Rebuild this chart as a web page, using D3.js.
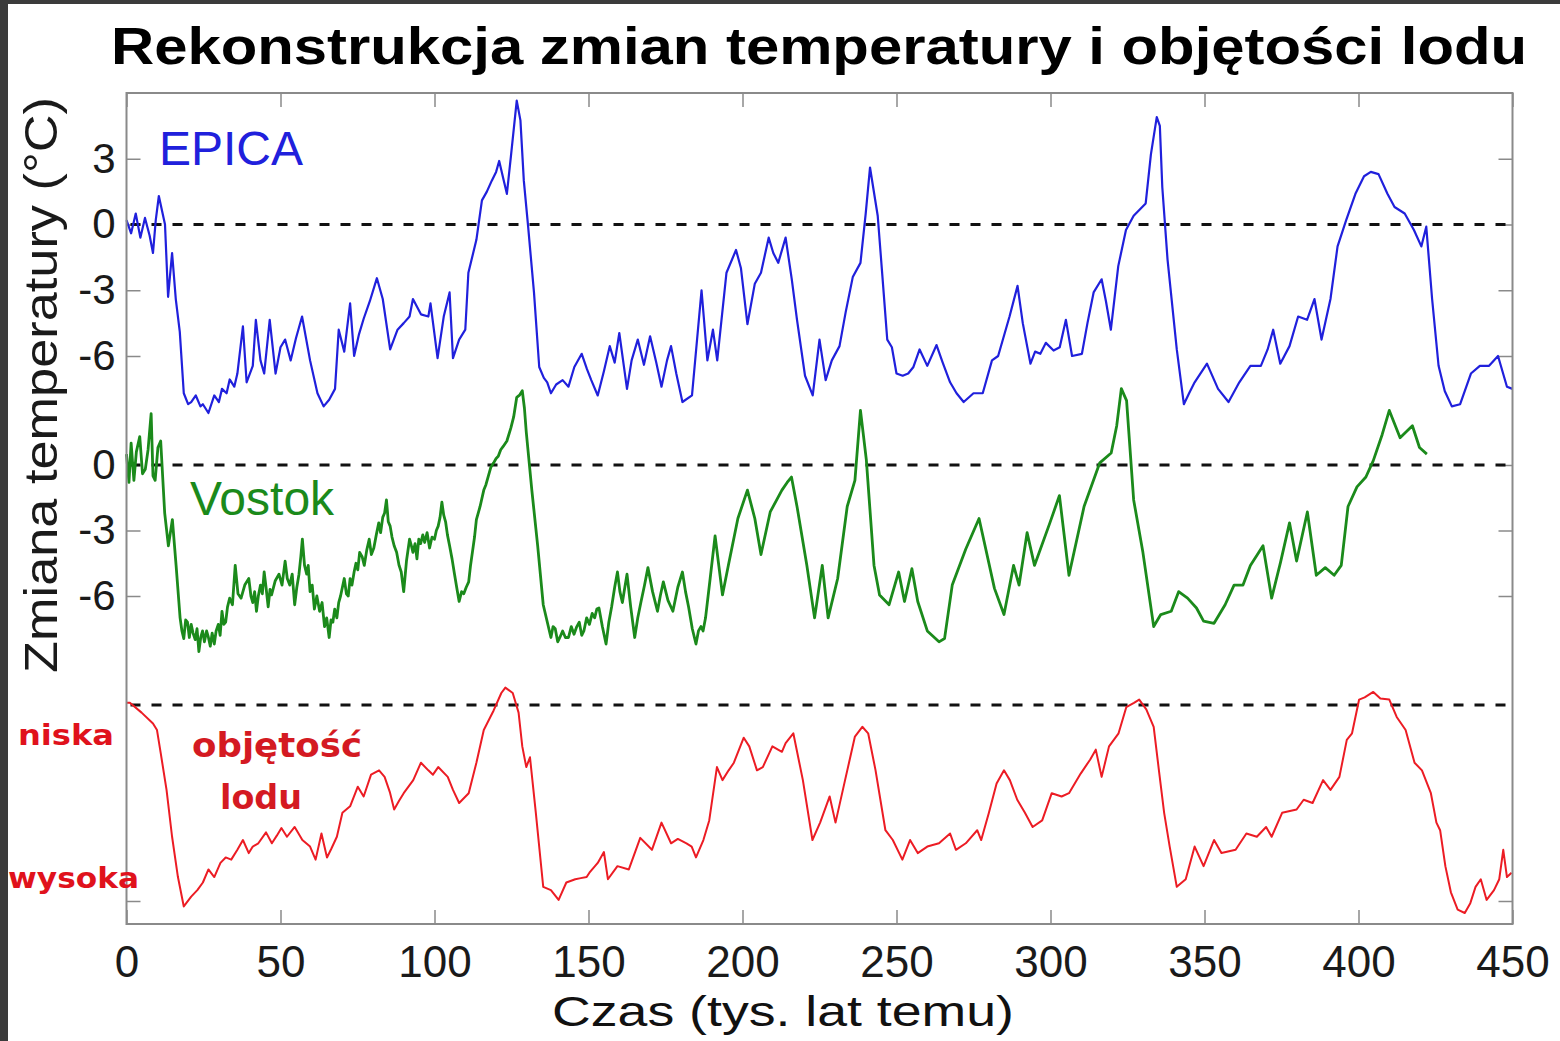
<!DOCTYPE html>
<html>
<head>
<meta charset="utf-8">
<script src="https://cdn.jsdelivr.net/npm/d3@7"></script>
<style>
  body { margin: 0; background: #fff; }
  svg { display: block; }
</style>
</head>
<body>
<script>
// [wiek w tys. lat, zmiana temperatury °C]
const epica = [[0,0.2],[1.5,-0.4],[3,0.5],[4.5,-0.6],[6,0.3],[7.5,-0.5],[8.6,-1.3],[9.5,0.2],[10.5,1.3],[12.5,0.0],[13.5,-3.3],[14.8,-1.3],[16,-3.4],[17.3,-4.9],[18.6,-7.7],[20,-8.2],[21,-8.1],[22.5,-7.8],[24,-8.3],[24.8,-8.2],[26.6,-8.6],[28.5,-7.8],[30,-8.1],[31,-7.5],[32.5,-7.7],[33.5,-7.07],[35,-7.4],[36,-6.8],[37.8,-4.65],[39,-7.2],[41,-6.45],[42,-4.35],[43.5,-6.2],[44.7,-6.8],[46.5,-4.35],[48.4,-6.8],[50,-5.6],[51.5,-5.25],[53.3,-6.2],[55,-5.2],[57,-4.2],[59.6,-6.2],[62,-7.7],[64,-8.3],[65.8,-8.0],[67.7,-7.5],[68.9,-4.8],[70.7,-5.8],[72.6,-3.6],[73.9,-6.0],[75.5,-5.0],[77,-4.3],[79,-3.5],[81.3,-2.45],[83.2,-3.4],[85.6,-5.7],[88,-4.8],[90,-4.5],[91.9,-4.2],[93,-3.4],[95.6,-4.1],[98,-4.2],[98.7,-3.6],[101,-6.1],[103,-4.2],[104.9,-3.1],[106,-6.1],[108,-5.25],[110,-4.8],[111,-2.2],[113.6,-0.7],[115.4,1.1],[117,1.5],[118.6,2.0],[120,2.4],[121,2.9],[122.5,2.0],[123.5,1.4],[124.8,3.1],[126.7,5.65],[127.9,4.75],[129,2.0],[130.4,-0.1],[132.3,-3.1],[134,-6.5],[135.5,-7.0],[136.6,-7.2],[137.8,-7.7],[139.5,-7.3],[141.6,-7.1],[143.5,-7.4],[145.4,-6.5],[147.8,-5.9],[149.5,-6.6],[150.9,-7.1],[153,-7.8],[155,-6.7],[156.9,-5.55],[158.5,-6.3],[160,-4.95],[162.5,-7.5],[164,-6.2],[166,-5.25],[168,-6.4],[170,-5.1],[172,-6.3],[173.7,-7.4],[175.5,-6.2],[176.8,-5.55],[178.5,-6.8],[180.5,-8.1],[183.6,-7.8],[186.7,-3.0],[188.6,-6.2],[190.4,-4.8],[191.8,-6.2],[194.8,-2.2],[197.9,-1.16],[199.5,-2.0],[201.6,-4.55],[204,-2.7],[206,-2.2],[208.5,-0.6],[210,-1.3],[211.6,-1.75],[214,-0.6],[216,-2.5],[217.7,-4.35],[220.3,-6.9],[222.8,-7.8],[225,-5.25],[227,-7.1],[229,-6.2],[231.5,-5.55],[233.5,-4.0],[235.8,-2.4],[238.3,-1.75],[240,0.5],[241.4,2.6],[243.9,0.4],[245.5,-2.5],[247,-5.25],[248.5,-5.6],[250,-6.8],[252,-6.9],[253.8,-6.8],[255.5,-6.5],[257.5,-5.7],[260,-6.45],[263,-5.5],[265,-6.3],[267.4,-7.2],[269.5,-7.7],[271.8,-8.1],[275,-7.7],[278,-7.7],[281,-6.2],[283,-6.0],[286.7,-4.2],[289.3,-2.8],[291,-4.5],[293.5,-6.35],[295,-5.8],[296.7,-5.9],[298.5,-5.4],[301,-5.75],[303,-5.6],[305,-4.35],[307,-6.0],[310.2,-5.9],[312,-4.5],[314,-3.1],[316.6,-2.5],[318,-3.5],[319.6,-4.8],[322,-1.9],[324.5,-0.25],[327,0.4],[330.9,0.96],[332.6,3.2],[334.5,4.9],[335.5,4.5],[336.3,1.7],[338,-1.6],[341,-5.7],[343.3,-8.2],[345,-7.7],[346.8,-7.2],[350.8,-6.35],[354.4,-7.5],[357.8,-8.1],[361.3,-7.2],[364.9,-6.45],[368.3,-6.45],[370.5,-5.7],[372.3,-4.8],[374.6,-6.35],[377.6,-5.55],[380.4,-4.2],[383.3,-4.35],[385.7,-3.4],[388,-5.25],[390.9,-3.4],[393.2,-1.0],[396,0.2],[399,1.4],[401.8,2.2],[404,2.4],[406.5,2.3],[409.4,1.4],[411.7,0.8],[415,0.5],[418,-0.25],[420.4,-1.0],[422,-0.1],[423.9,-3.4],[426,-6.45],[428,-7.6],[430.3,-8.3],[433,-8.2],[436.5,-6.8],[439.4,-6.45],[442.4,-6.45],[445.3,-6.0],[448.2,-7.4],[450,-7.5]];

const vostok = [[0,0.5],[0.8,-0.8],[1.5,1.0],[2.4,-0.7],[3.2,0.6],[4.3,1.3],[5.2,-0.4],[6.1,-0.2],[7,0.7],[8,2.35],[8.6,-0.5],[9.3,-0.7],[10.2,0.8],[11.1,1.1],[12.4,-2.2],[13.6,-3.7],[14.9,-2.5],[16.1,-4.6],[17.4,-7.0],[18,-7.6],[18.6,-7.95],[19.2,-7.1],[19.8,-7.2],[20.4,-7.9],[21,-7.3],[21.6,-7.7],[22.3,-8.0],[22.9,-7.5],[23.5,-8.55],[24.1,-7.9],[24.7,-7.6],[25.3,-8.1],[26,-7.6],[26.6,-7.9],[27.2,-8.3],[27.8,-7.7],[28.5,-8.2],[29.1,-7.6],[29.8,-7.3],[30.4,-7.8],[31,-6.7],[31.6,-7.3],[32.2,-7.2],[32.8,-6.5],[33.5,-6.1],[34.4,-6.4],[35.3,-4.6],[36.2,-5.9],[37.2,-6.1],[38.4,-5.5],[39.7,-5.2],[40.4,-6.0],[41,-6.3],[41.6,-5.8],[42.2,-6.7],[42.8,-6.0],[43.5,-5.5],[44.1,-5.9],[44.7,-4.9],[45.3,-5.6],[46,-6.5],[46.6,-5.7],[47.1,-5.95],[48.3,-5.3],[49.5,-5.0],[50.5,-5.5],[51.5,-4.4],[52.2,-5.2],[53,-5.5],[53.8,-5.0],[54.6,-6.4],[55.3,-5.6],[56,-5.0],[56.6,-4.2],[57.1,-3.4],[57.8,-4.6],[58.5,-5.0],[59,-4.6],[59.6,-5.8],[60.3,-5.5],[61,-6.6],[61.8,-6.0],[62.7,-6.7],[63.5,-6.3],[64.3,-7.4],[65,-7.0],[65.8,-7.9],[66.4,-7.1],[67,-7.2],[67.6,-6.6],[68.3,-7.0],[68.9,-6.3],[69.5,-6.0],[70.1,-5.6],[70.7,-5.2],[71.4,-5.9],[72,-6.0],[72.6,-5.2],[73.2,-5.5],[73.9,-4.9],[74.5,-4.5],[75.1,-4.8],[75.7,-4.0],[76.5,-4.2],[77.2,-4.6],[78,-3.9],[78.8,-3.4],[79.5,-4.1],[80.3,-3.8],[81.1,-3.2],[81.9,-2.65],[82.5,-3.1],[83.2,-2.4],[83.8,-2.2],[84.4,-1.6],[85,-2.6],[85.6,-2.8],[86.2,-3.3],[86.9,-3.7],[87.7,-4.0],[88.5,-4.6],[89.2,-4.9],[90,-5.8],[90.9,-4.4],[91.9,-3.4],[92.5,-3.7],[93,-4.0],[93.7,-3.6],[94.3,-4.3],[94.9,-3.4],[95.5,-3.6],[96.2,-3.2],[96.8,-3.55],[97.6,-3.1],[98.4,-3.8],[99.2,-3.3],[100,-3.4],[100.6,-3.0],[101.2,-2.8],[101.8,-2.4],[102.4,-1.7],[103,-2.3],[103.6,-2.6],[104.2,-3.2],[104.9,-3.7],[105.7,-4.3],[106.5,-5.0],[107.2,-5.6],[108,-6.25],[108.8,-5.8],[109.5,-5.9],[110.3,-5.6],[111.1,-5.35],[111.7,-4.6],[112.3,-4.0],[113,-3.3],[113.6,-2.5],[114.8,-1.9],[116,-1.15],[116.7,-0.9],[117.5,-0.5],[118.3,-0.1],[119.2,0.1],[120,0.3],[120.7,0.4],[121.5,0.7],[122.3,0.85],[123.5,1.1],[124.8,1.7],[125.7,2.2],[126.7,3.1],[127.6,3.2],[128.5,3.4],[129.2,2.6],[129.8,1.5],[131.6,-1.15],[133.5,-3.7],[135.3,-6.4],[137.8,-7.9],[138.5,-7.4],[139.2,-7.5],[140,-8.1],[140.7,-7.9],[141.6,-7.6],[142.5,-7.9],[143.5,-7.9],[144.4,-7.4],[145.3,-7.75],[146.2,-7.4],[147,-7.2],[147.8,-7.8],[148.5,-7.6],[149.4,-7.0],[150.3,-7.3],[151.2,-6.8],[152,-7.0],[152.7,-6.6],[153.4,-6.55],[154.5,-7.4],[155.7,-8.2],[156.6,-7.2],[157.5,-6.5],[158.5,-5.6],[159.4,-4.9],[160.2,-5.8],[161,-6.3],[161.8,-5.6],[162.5,-5.0],[163.7,-6.5],[165,-7.9],[166,-7.0],[167,-6.3],[168.2,-5.5],[169.3,-4.7],[170.8,-5.8],[172.4,-6.7],[173.3,-6.0],[174.3,-5.35],[175.8,-6.2],[177.4,-6.7],[179,-5.6],[180.5,-4.9],[181.5,-5.8],[182.5,-6.5],[183.7,-7.5],[184.9,-8.2],[185.7,-7.6],[186.5,-7.4],[187.2,-7.6],[188,-7.0],[189.5,-5.2],[191.1,-3.25],[193.5,-5.95],[195.4,-4.6],[198.5,-2.45],[201.6,-1.15],[204,-2.45],[206,-4.1],[209,-2.15],[212.8,-1.15],[214.5,-0.8],[215.9,-0.55],[217.7,-1.9],[220.9,-4.6],[223.4,-7.0],[225.9,-4.6],[227.8,-7.0],[230.9,-5.2],[234,-1.9],[236.5,-0.7],[238.3,2.5],[240.2,0.25],[242.7,-4.6],[244.5,-5.95],[247.6,-6.4],[250.7,-4.9],[252.6,-6.25],[255,-4.75],[256.9,-6.25],[260,-7.6],[263.8,-8.1],[265.6,-7.95],[268.1,-5.5],[272.5,-3.85],[276.8,-2.45],[281.8,-5.65],[284.9,-6.85],[288,-4.6],[289.8,-5.5],[292.4,-3.1],[294.8,-4.6],[299.8,-2.65],[302.9,-1.4],[306,-5.05],[310.9,-1.9],[316,0.1],[319.7,0.55],[321.5,1.8],[323,3.5],[324.7,2.95],[327,-1.6],[330,-4.0],[333.5,-7.4],[335.8,-6.85],[339.2,-6.7],[341.6,-5.8],[344.5,-6.1],[347.4,-6.55],[349.7,-7.15],[353.1,-7.25],[356.7,-6.4],[359.6,-5.5],[362.5,-5.5],[364.9,-4.6],[369,-3.7],[371.8,-6.1],[374.7,-4.45],[377.6,-2.65],[379.9,-4.4],[383.4,-2.15],[386.3,-5.05],[389.2,-4.7],[392.1,-5.05],[394.4,-4.6],[396.6,-1.9],[399.5,-1.0],[402.4,-0.55],[404.8,0.2],[407.7,1.4],[410,2.5],[413.5,1.25],[417.5,1.8],[419.8,0.8],[422.2,0.5]];

// objętość lodu: bentosowe δ18O (‰), wyżej = mniej lodu
const iceVolume = [[0,3.18],[1.1,3.18],[4.9,3.27],[8.6,3.37],[9.9,3.43],[11.1,3.64],[13,3.98],[14.8,4.41],[16.7,4.78],[18.6,5.05],[21,4.96],[23,4.9],[24.8,4.83],[26.6,4.71],[28.5,4.78],[30.5,4.65],[32.2,4.6],[34,4.62],[36,4.53],[37.8,4.44],[39.7,4.56],[41,4.5],[42.8,4.47],[45.3,4.37],[47.2,4.47],[48.8,4.4],[50.3,4.33],[52.1,4.41],[54.6,4.32],[57.1,4.44],[59.6,4.5],[61.4,4.62],[63.3,4.38],[65.1,4.6],[66.5,4.52],[68.3,4.41],[70.1,4.19],[72.6,4.13],[75.1,3.95],[77,4.04],[79.4,3.84],[82,3.8],[83.8,3.86],[85.5,4.0],[86.9,4.16],[88.5,4.08],[90,4.01],[93.1,3.89],[95.6,3.73],[98,3.8],[99.5,3.84],[101.2,3.77],[104.3,3.86],[106,3.98],[108,4.1],[111.1,4.01],[113.6,3.73],[116,3.43],[119.2,3.25],[121.7,3.09],[123,3.04],[125.4,3.09],[127.3,3.27],[128.5,3.58],[129.8,3.77],[131,3.68],[132.9,4.19],[135.3,4.87],[137.8,4.9],[140.3,4.99],[142.8,4.83],[145.7,4.8],[147.5,4.79],[149.4,4.78],[150.3,4.74],[153,4.65],[155,4.55],[156.3,4.8],[159.4,4.68],[163.1,4.71],[166.8,4.42],[170.6,4.53],[173.7,4.28],[176.8,4.47],[179,4.43],[181.8,4.47],[183.5,4.5],[184.9,4.6],[187.3,4.44],[189.2,4.26],[191.7,3.77],[193.5,3.89],[195.5,3.8],[197.2,3.73],[200.4,3.5],[202.2,3.58],[204.7,3.8],[206.6,3.77],[209.7,3.58],[212.8,3.63],[214,3.55],[216.5,3.46],[219.6,3.89],[222.7,4.44],[225.2,4.28],[228.3,4.04],[230.2,4.28],[233.3,3.89],[236.5,3.49],[238.9,3.4],[240.8,3.46],[243.2,3.8],[246.4,4.35],[248.8,4.44],[251.9,4.62],[254.4,4.44],[256.9,4.56],[260,4.5],[263.8,4.47],[267.4,4.38],[269.3,4.53],[272.5,4.47],[276.2,4.35],[277.5,4.44],[280,4.19],[282.5,3.92],[284.9,3.8],[286.8,3.89],[289.2,4.07],[291.7,4.19],[294.2,4.32],[297.3,4.26],[300.4,4.01],[303.6,4.04],[306,4.01],[309.8,3.83],[312.9,3.7],[314.7,3.61],[316.6,3.86],[319,3.58],[322.1,3.46],[324.6,3.22],[327.1,3.18],[328.8,3.15],[331.1,3.24],[333.5,3.4],[335.2,3.8],[336.9,4.19],[338.7,4.5],[341,4.87],[343.9,4.8],[346.8,4.5],[349.7,4.68],[353.1,4.44],[355.5,4.56],[360.1,4.53],[363.6,4.38],[367,4.41],[370,4.32],[371.8,4.41],[375.2,4.19],[379.9,4.16],[382.2,4.07],[385.1,4.1],[388.5,3.89],[390.9,3.98],[393.8,3.86],[396.2,3.52],[397.9,3.46],[400.2,3.15],[402,3.13],[404.8,3.08],[407.1,3.14],[410,3.15],[412.4,3.31],[415.3,3.43],[418.2,3.73],[420.6,3.8],[423.5,4.01],[425.3,4.28],[426.5,4.35],[428.2,4.68],[430,4.92],[432.2,5.08],[434.5,5.11],[436.3,5.02],[438,4.87],[439.7,4.8],[441.6,4.99],[444,4.9],[445.7,4.8],[447,4.53],[448.2,4.78],[449.7,4.74]];

const xTicks = [0, 50, 100, 150, 200, 250, 300, 350, 400, 450];
const epicaTicks = [3, 0, -3, -6];
const vostokTicks = [0, -3, -6];
const iceTicks = [5.0];
const iceToday = 3.2;

const width = 1560, height = 1041;
const plotLeft = 126.5, plotRight = 1512.5, plotTop = 93, plotBottom = 924;

const svg = d3.select("body").append("svg").attr("width", width).attr("height", height);
const font = "'Liberation Sans', Arial, sans-serif";

// ciemna ramka zrzutu ekranu
svg.append("rect").attr("x", 0).attr("y", 0).attr("width", 8).attr("height", height).attr("fill", "#3b3b3b");
svg.append("rect").attr("x", 0).attr("y", 0).attr("width", width).attr("height", 4).attr("fill", "#3b3b3b");

const x = d3.scaleLinear().domain([0, 450]).range([plotLeft, plotRight]);
const yEpica = d3.scaleLinear().domain([0, -6]).range([224.5, 356]);
const yVostok = d3.scaleLinear().domain([0, -6]).range([465, 596]);
const yIce = d3.scaleLinear().domain([iceToday, 5.0]).range([705, 901]);

// osie
function styleAxis(g) {
  g.select(".domain").remove();
  g.selectAll(".tick line").attr("stroke", "#8a8a8a").attr("stroke-width", 1.5);
  g.selectAll(".tick text").attr("font-family", font).attr("fill", "#1a1a1a");
}
const plain = d => String(d);

svg.append("g").attr("transform", `translate(0,${plotBottom})`)
  .call(d3.axisBottom(x).tickValues(xTicks).tickFormat(plain).tickSize(-14).tickPadding(22))
  .call(styleAxis)
  .selectAll("text").attr("font-size", 44);

svg.append("g").attr("transform", `translate(0,${plotTop})`)
  .call(d3.axisTop(x).tickValues(xTicks).tickSize(-14).tickFormat(""))
  .call(styleAxis);

[[yEpica, epicaTicks], [yVostok, vostokTicks]].forEach(([sc, tv]) => {
  svg.append("g").attr("transform", `translate(${plotLeft},0)`)
    .call(d3.axisLeft(sc).tickValues(tv).tickFormat(plain).tickSize(-14).tickPadding(11))
    .call(styleAxis)
    .selectAll("text").attr("font-size", 42);
  svg.append("g").attr("transform", `translate(${plotRight},0)`)
    .call(d3.axisRight(sc).tickValues(tv).tickSize(-14).tickFormat(""))
    .call(styleAxis);
});

svg.append("g").attr("transform", `translate(${plotLeft},0)`)
  .call(d3.axisLeft(yIce).tickValues(iceTicks).tickSize(-14).tickFormat(""))
  .call(styleAxis);
svg.append("g").attr("transform", `translate(${plotRight},0)`)
  .call(d3.axisRight(yIce).tickValues(iceTicks).tickSize(-14).tickFormat(""))
  .call(styleAxis);

// linie odniesienia (dziś)
[yEpica(0), yVostok(0), yIce(iceToday)].forEach(yy => {
  svg.append("line")
    .attr("x1", plotLeft + 4).attr("x2", plotRight)
    .attr("y1", yy).attr("y2", yy)
    .attr("stroke", "#111").attr("stroke-width", 3)
    .attr("stroke-dasharray", "10,11");
});

// serie
const series = [
  { data: vostok, y: yVostok, color: "#1b8a1b", w: 2.8 },
  { data: epica, y: yEpica, color: "#2020dc", w: 2.2 },
  { data: iceVolume, y: yIce, color: "#ec1c24", w: 2 }
];
series.forEach(s => {
  svg.append("path")
    .datum(s.data)
    .attr("fill", "none")
    .attr("stroke", s.color)
    .attr("stroke-width", s.w)
    .attr("stroke-linejoin", "round")
    .attr("d", d3.line().x(d => x(d[0])).y(d => s.y(d[1])));
});

// ramka wykresu
svg.append("rect")
  .attr("x", plotLeft).attr("y", plotTop)
  .attr("width", plotRight - plotLeft).attr("height", plotBottom - plotTop)
  .attr("fill", "none").attr("stroke", "#8a8a8a").attr("stroke-width", 2);

// tytuł i opisy
svg.append("text")
  .attr("x", 819).attr("y", 64)
  .attr("text-anchor", "middle")
  .attr("font-family", font).attr("font-weight", "bold").attr("font-size", 52)
  .attr("textLength", 1416).attr("lengthAdjust", "spacingAndGlyphs")
  .text("Rekonstrukcja zmian temperatury i objętości lodu");

svg.append("text")
  .attr("transform", "translate(57,385) rotate(-90)")
  .attr("text-anchor", "middle")
  .attr("font-family", font).attr("font-size", 46).attr("fill", "#1a1a1a")
  .attr("textLength", 576).attr("lengthAdjust", "spacingAndGlyphs")
  .text("Zmiana temperatury (°C)");

svg.append("text")
  .attr("x", 783).attr("y", 1026)
  .attr("text-anchor", "middle")
  .attr("font-family", font).attr("font-size", 42).attr("fill", "#111")
  .attr("textLength", 462).attr("lengthAdjust", "spacingAndGlyphs")
  .text("Czas (tys. lat temu)");

svg.append("text")
  .attr("x", 159).attr("y", 165)
  .attr("font-family", font).attr("font-size", 48).attr("fill", "#2020dc")
  .text("EPICA");

svg.append("text")
  .attr("x", 190).attr("y", 515)
  .attr("font-family", font).attr("font-size", 48).attr("fill", "#1b8a1b")
  .text("Vostok");

const narrow = "'Liberation Sans Narrow', 'DejaVu Sans Condensed', sans-serif";
svg.append("text")
  .attr("x", 192).attr("y", 757)
  .attr("font-family", narrow).attr("font-weight", "bold").attr("font-size", 34).attr("fill", "#d41a22")
  .attr("textLength", 170).attr("lengthAdjust", "spacingAndGlyphs")
  .text("objętość");
svg.append("text")
  .attr("x", 220).attr("y", 809)
  .attr("font-family", narrow).attr("font-weight", "bold").attr("font-size", 34).attr("fill", "#d41a22")
  .attr("textLength", 82).attr("lengthAdjust", "spacingAndGlyphs")
  .text("lodu");

const tag = "'DejaVu Sans', Verdana, sans-serif";
svg.append("text")
  .attr("x", 18).attr("y", 745)
  .attr("font-family", tag).attr("font-weight", "bold").attr("font-size", 28).attr("fill", "#e0121c")
  .attr("textLength", 96).attr("lengthAdjust", "spacingAndGlyphs")
  .text("niska");
svg.append("text")
  .attr("x", 8).attr("y", 888)
  .attr("font-family", tag).attr("font-weight", "bold").attr("font-size", 28).attr("fill", "#e0121c")
  .attr("textLength", 131).attr("lengthAdjust", "spacingAndGlyphs")
  .text("wysoka");
</script>
</body>
</html>
